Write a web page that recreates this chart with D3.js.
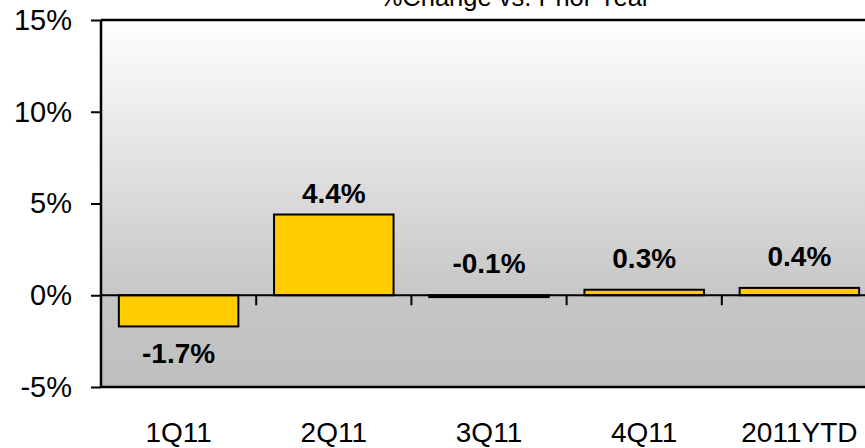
<!DOCTYPE html>
<html>
<head>
<meta charset="utf-8">
<script src="https://cdn.jsdelivr.net/npm/d3@7"></script>
<style>
  body { margin: 0; background: #fff; }
  svg { display: block; font-family: "Liberation Sans", Arial, sans-serif; }
</style>
</head>
<body>
<svg width="865" height="448"></svg>
<script>
// ** DATA ** //
const categories = ["1Q11", "2Q11", "3Q11", "4Q11", "2011YTD"];
const changes = [-1.7, 4.4, -0.1, 0.3, 0.4];
const yTicks = [-5, 0, 5, 10, 15];
const title = "%Change vs. Prior Year";

const onReady = () => {
  const svg = d3.select("svg");

  const plot = { left: 101, right: 877, top: 20, bottom: 387 };

  const x = d3
    .scaleBand()
    .domain(categories)
    .range([plot.left, plot.right])
    .paddingInner(0.23)
    .paddingOuter(0.115);

  const y = d3.scaleLinear().domain([-5, 15]).range([plot.bottom, plot.top]);

  // plain hyphen for negatives, like the source chart
  const fmt = d3.formatLocale({ decimal: ".", thousands: ",", grouping: [3], currency: ["", ""], minus: "-" });
  const pct = d => fmt.format(".1f")(d) + "%";

  // background gradient
  const grad = svg
    .append("defs")
    .append("linearGradient")
    .attr("id", "bg")
    .attr("x1", 0)
    .attr("y1", 0)
    .attr("x2", 0)
    .attr("y2", 1);
  grad.append("stop").attr("offset", "0%").attr("stop-color", "#ffffff");
  grad.append("stop").attr("offset", "75%").attr("stop-color", "#c6c6c6");
  grad.append("stop").attr("offset", "100%").attr("stop-color", "#bfbfbf");

  svg
    .append("rect")
    .attr("x", plot.left)
    .attr("y", plot.top)
    .attr("width", plot.right - plot.left)
    .attr("height", plot.bottom - plot.top)
    .attr("fill", "url(#bg)");

  // top and bottom border
  svg
    .append("g")
    .selectAll("line")
    .data([plot.top, plot.bottom])
    .enter()
    .append("line")
    .attr("x1", plot.left)
    .attr("x2", plot.right)
    .attr("y1", d => d)
    .attr("y2", d => d)
    .attr("stroke", "#000")
    .attr("stroke-width", 2.5);

  // bars
  svg
    .append("g")
    .selectAll("rect")
    .data(changes)
    .enter()
    .append("rect")
    .attr("x", (d, i) => x(categories[i]))
    .attr("width", x.bandwidth())
    .attr("y", d => y(Math.max(0, d)))
    .attr("height", d => Math.abs(y(d) - y(0)))
    .attr("fill", "#ffcc00")
    .attr("stroke", "#000")
    .attr("stroke-width", 2);

  // zero line with category separators
  svg
    .append("line")
    .attr("x1", plot.left)
    .attr("x2", plot.right)
    .attr("y1", y(0))
    .attr("y2", y(0))
    .attr("stroke", "#000")
    .attr("stroke-width", 2);

  const step = x.step();
  svg
    .append("g")
    .selectAll("line")
    .data(categories.slice(1))
    .enter()
    .append("line")
    .attr("x1", d => x(d) - (step * x.paddingInner()) / 2)
    .attr("x2", d => x(d) - (step * x.paddingInner()) / 2)
    .attr("y1", y(0))
    .attr("y2", y(0) + 10)
    .attr("stroke", "#000")
    .attr("stroke-width", 2);

  // y axis
  const yAxis = svg
    .append("g")
    .attr("transform", `translate(${plot.left},0)`)
    .call(
      d3
        .axisLeft(y)
        .tickValues(yTicks)
        .tickFormat(d => d + "%")
        .tickSize(10)
        .tickPadding(19)
    );
  yAxis.select(".domain").attr("stroke-width", 2.5).attr("d", `M0,${plot.top}V${plot.bottom}`);
  yAxis.selectAll(".tick line").attr("stroke-width", 2);
  yAxis
    .selectAll(".tick text")
    .attr("font-family", "Liberation Sans, Arial, sans-serif")
    .attr("font-size", 29)
    .attr("fill", "#000");

  // category labels
  svg
    .append("g")
    .selectAll("text")
    .data(categories)
    .enter()
    .append("text")
    .attr("x", d => x(d) + x.bandwidth() / 2)
    .attr("y", 442)
    .attr("text-anchor", "middle")
    .attr("font-size", 28)
    .text(d => d);

  // value labels
  svg
    .append("g")
    .selectAll("text")
    .data(changes)
    .enter()
    .append("text")
    .attr("x", (d, i) => x(categories[i]) + x.bandwidth() / 2)
    .attr("y", d => {
      if (d <= -1) return y(d) + 37;
      const top = Math.min(y(d), y(0));
      return top - (y(0) - top > 20 ? 12 : 22);
    })
    .attr("text-anchor", "middle")
    .attr("font-size", 28)
    .attr("font-weight", "bold")
    .text(pct);

  // title (runs off the top edge in the source as well)
  svg
    .append("text")
    .attr("x", 515)
    .attr("y", 6)
    .attr("text-anchor", "middle")
    .attr("font-size", 25.5)
    .text(title);
};
document.addEventListener("DOMContentLoaded", onReady);
</script>
</body>
</html>
